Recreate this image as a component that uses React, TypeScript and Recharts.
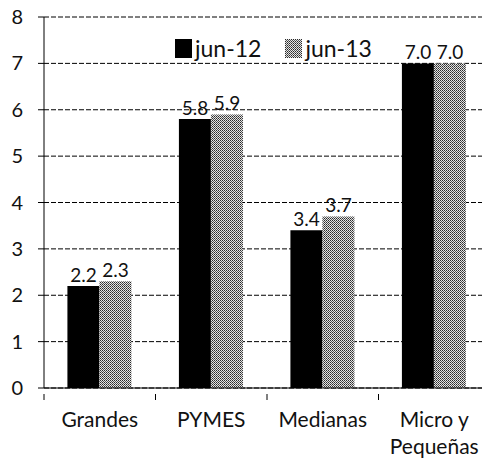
import { Bar, BarChart, CartesianGrid, LabelList, Legend, XAxis, YAxis } from "recharts";

const categories = ["Grandes", "PYMES", "Medianas", "Micro y\nPequeñas"];
const jun12 = [2.2, 5.8, 3.4, 7.0];
const jun13 = [2.3, 5.9, 3.7, 7.0];
const yTicks = [0, 1, 2, 3, 4, 5, 6, 7, 8];

const data = categories.map((name, i) => ({
  name,
  "jun-12": jun12[i],
  "jun-13": jun13[i],
}));

const FONT = "Lato, 'Open Sans', sans-serif";
// half of one category band, used for the boundary tick marks
const HALF_BAND = 55.75;

type TickProps = { x?: number; y?: number; payload?: { value: string } };

function CategoryTick({ x = 0, y = 0, payload }: TickProps) {
  const lines = String(payload?.value ?? "").split("\n");
  return (
    <g>
      <line x1={x - HALF_BAND} x2={x - HALF_BAND} y1={y - 2} y2={y + 4} stroke="#000" />
      <text x={x} y={y} textAnchor="middle" fontSize={21} fill="#111" fontFamily={FONT}>
        {lines.map((line, i) => (
          <tspan key={line} x={x} dy={i === 0 ? 31 : 27}>
            {line}
          </tspan>
        ))}
      </text>
    </g>
  );
}

function Swatch({ fill }: { fill: string }) {
  return (
    <svg width={17} height={19} style={{ display: "block" }}>
      <rect width={17} height={19} fill={fill} />
    </svg>
  );
}

function ChartLegend() {
  return (
    <div style={{ display: "flex", alignItems: "center", fontSize: 23, fontFamily: FONT, color: "#111" }}>
      <Swatch fill="#000" />
      <span style={{ marginLeft: 3, marginRight: 24 }}>jun-12</span>
      <Swatch fill="url(#dots)" />
      <span style={{ marginLeft: 3 }}>jun-13</span>
    </div>
  );
}

export default function App() {
  return (
    <div
      style={{
        position: "absolute",
        left: 0,
        top: 0,
        width: 482,
        height: 463,
        overflow: "hidden",
        background: "#fff",
        fontFamily: FONT,
      }}
    >
      <BarChart
        width={490}
        height={463}
        data={data}
        margin={{ top: 17, right: 0, bottom: 15, left: 0 }}
        barCategoryGap="21%"
        barGap={0}
      >
        <defs>
          <pattern id="dots" width={2} height={2} patternUnits="userSpaceOnUse">
            <rect width={2} height={2} fill="#e4e4e4" />
            <rect x={0} y={0} width={1} height={1} fill="#2a2a2a" />
            <rect x={1} y={1} width={1} height={1} fill="#555" />
          </pattern>
        </defs>
        <CartesianGrid vertical={false} stroke="#000" strokeDasharray="5 2" />
        <XAxis
          dataKey="name"
          tick={<CategoryTick />}
          tickLine={false}
          axisLine={{ stroke: "#000" }}
          interval={0}
          height={60}
        />
        <YAxis
          domain={[0, 8]}
          ticks={yTicks}
          width={44}
          axisLine={{ stroke: "#000" }}
          tickLine={{ stroke: "#000" }}
          tickSize={6}
          tickMargin={15}
          tick={{ fill: "#111", fontSize: 20, fontFamily: FONT }}
        />
        <Legend
          layout="horizontal"
          verticalAlign="middle"
          align="center"
          content={<ChartLegend />}
          wrapperStyle={{ position: "absolute", top: 34, left: 175, width: "auto" }}
        />
        <Bar dataKey="jun-12" fill="#000" isAnimationActive={false}>
          <LabelList
            dataKey="jun-12"
            position="top"
            offset={4}
            formatter={(v: number) => v.toFixed(1)}
            style={{ fill: "#111", fontSize: 19, fontFamily: FONT }}
          />
        </Bar>
        <Bar dataKey="jun-13" fill="url(#dots)" isAnimationActive={false}>
          <LabelList
            dataKey="jun-13"
            position="top"
            offset={4}
            formatter={(v: number) => v.toFixed(1)}
            style={{ fill: "#111", fontSize: 19, fontFamily: FONT }}
          />
        </Bar>
      </BarChart>
    </div>
  );
}
